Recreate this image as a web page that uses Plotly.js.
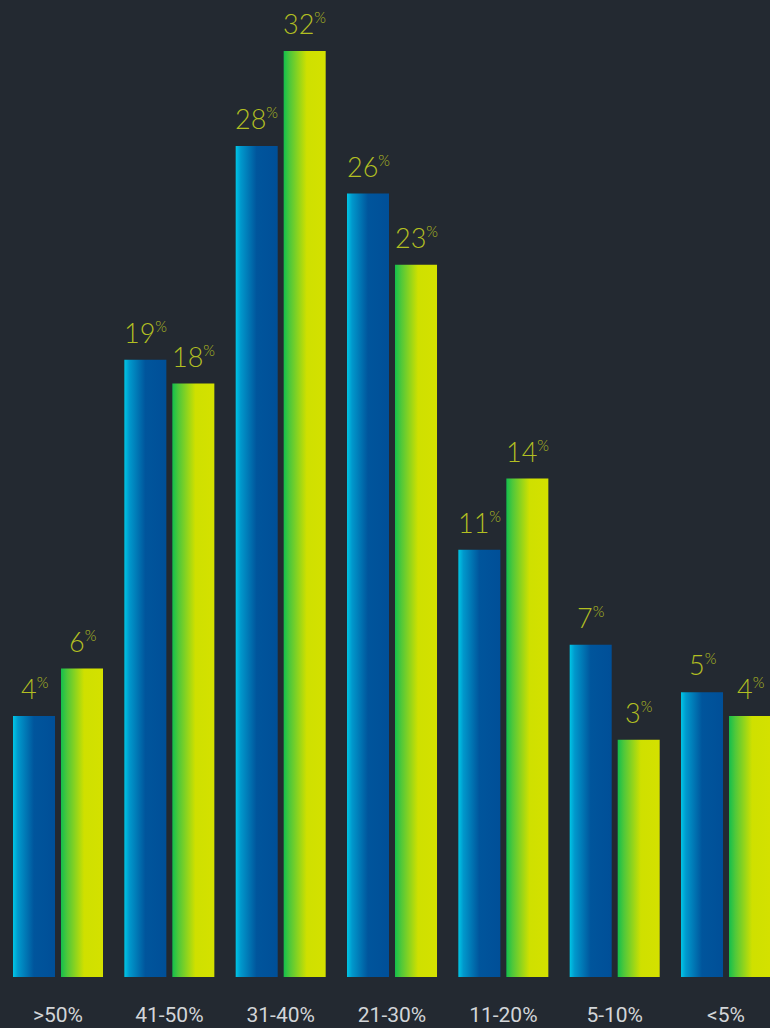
<!DOCTYPE html>
<html>
<head>
<meta charset="utf-8">
<script src="https://cdn.plot.ly/plotly-3.0.1.min.js"></script>
<style>
html,body{margin:0;padding:0;background:#232931;overflow:hidden;}
#chart{width:770px;height:1028px;}
</style>
</head>
<body>
<div id="chart"></div>
<script>
// ---- data ----
const categories = [">50%", "41-50%", "31-40%", "21-30%", "11-20%", "5-10%", "<5%"];
const seriesBlue = [4, 19, 28, 26, 11, 7, 5];
const seriesGreen = [6, 18, 32, 23, 14, 3, 4];

// ---- style ----
const AXIS_FLOOR = 6.99;   // bars start below the zero value on this chart
const BG = "#232931";
const LABEL_COLOR = "#b2bf22";
const LABEL_FONT = "Lato, 'Open Sans', sans-serif";

function heights(vals){ return vals.map(v => v + AXIS_FLOOR); }

const traces = [
  {type:"bar", name:"A", x:categories, y:heights(seriesBlue), marker:{color:"#00569c", line:{width:0}}, hoverinfo:"skip"},
  {type:"bar", name:"B", x:categories, y:heights(seriesGreen), marker:{color:"#c8dc00", line:{width:0}}, hoverinfo:"skip"}
];

const annotations = [];
function addLabels(vals, barShift){
  vals.forEach((v, i) => {
    annotations.push({
      x: categories[i], y: v + AXIS_FLOOR, xref:"x", yref:"y",
      text: v + "<sup><span style=\"font-size:15px\">%</span></sup>",
      showarrow:false, borderpad:0,
      xanchor:"center", yanchor:"bottom", xshift: barShift, yshift: 10,
      font:{family:LABEL_FONT, size:27, weight:300, color:LABEL_COLOR}
    });
  });
}
addLabels(seriesBlue, -24);
addLabels(seriesGreen, 24);

const layout = {
  width:770, height:1028,
  margin:{l:0, r:0, t:0, b:51, pad:0},
  paper_bgcolor:BG, plot_bgcolor:BG,
  showlegend:false,
  barmode:"group", bargap:0.1377, bargroupgap:0.125,
  xaxis:{type:"category", range:[-0.521, 6.395], showgrid:false, zeroline:false, showline:false,
         ticks:"", ticklabelstandoff:23,
         tickfont:{family:"Roboto, sans-serif", size:21, color:"#d2d5d8"}},
  yaxis:{range:[0, 41.14], visible:false, showgrid:false, zeroline:false},
  annotations: annotations
};

const gd = document.getElementById("chart");
Plotly.newPlot(gd, traces, layout, {staticPlot:true, displayModeBar:false}).then(() => {
  const svg = gd.querySelector("svg.main-svg");
  const ns = "http://www.w3.org/2000/svg";
  let defs = svg.querySelector("defs");
  function grad(id, stops){
    const g = document.createElementNS(ns, "linearGradient");
    g.setAttribute("id", id);
    g.setAttribute("x1","0"); g.setAttribute("y1","0"); g.setAttribute("x2","1"); g.setAttribute("y2","0");
    stops.forEach(s => {
      const st = document.createElementNS(ns, "stop");
      st.setAttribute("offset", s[0]); st.setAttribute("stop-color", s[1]);
      g.appendChild(st);
    });
    defs.appendChild(g);
  }
  grad("gradBlue", [[0,"#00c6e6"],[0.12,"#0098cc"],[0.5,"#00559c"],[1,"#004f98"]]);
  grad("gradGreen", [[0,"#14bf4c"],[0.15,"#50c83a"],[0.55,"#cfe000"],[1,"#d4e100"]]);
  const ids = ["gradBlue","gradGreen"];
  gd.querySelectorAll("g.trace.bars").forEach((t, i) => {
    t.querySelectorAll("g.point path").forEach(p => { p.style.fill = "url(#" + ids[i] + ")"; });
  });
});
</script>
</body>
</html>
